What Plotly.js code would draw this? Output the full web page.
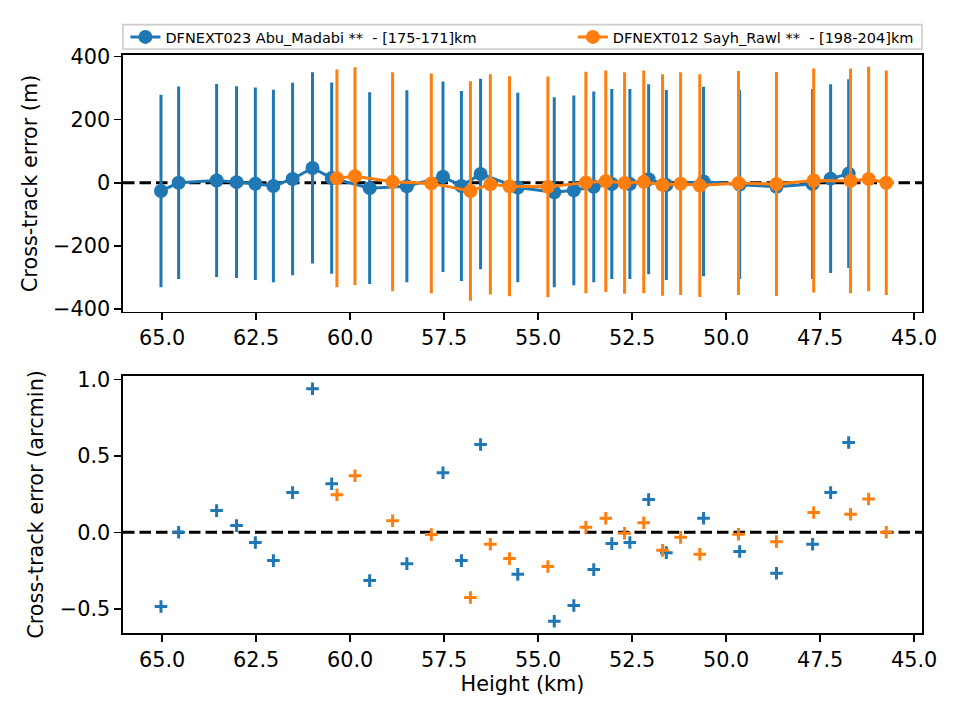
<!DOCTYPE html>
<html>
<head>
<meta charset="utf-8">
<script src="https://cdn.plot.ly/plotly-3.0.1.min.js"></script>
<style>html,body{margin:0;padding:0;background:#fff;}#chart{width:960px;height:720px;}</style>
</head>
<body>
<div id="chart"></div>
<script>
// ---- Data ----
const blueName = "DFNEXT023 Abu_Madabi **  - [175-171]km";
const orangeName = "DFNEXT012 Sayh_Rawl **  - [198-204]km";

const blueHeight = [65.03, 64.56, 63.55, 63.02, 62.52, 62.04, 61.53, 61.00, 60.49, 59.48,
  58.49, 57.53, 57.04, 56.53, 55.54, 54.57, 54.05, 53.52, 53.04, 52.56,
  52.06, 51.59, 50.60, 49.64, 48.66, 47.70, 47.22, 46.74];
const blueErrM = [-26, 0, 7, 2, -3, -10, 12, 47, 15, -17, -11, 19, -10, 28, -15,
  -30, -24, -13, -4, -4, 11, -7, 4, -6, -13, -4, 13, 29];
const blueSigmaM = [305, 305, 306, 304, 305, 305, 305, 303, 303, 304, 304, 302, 301, 302, 300,
  301, 301, 302, 301, 301, 301, 301, 300, 299, 300, 301, 299, 299];
const blueErrArcmin = [-0.486, 0.0, 0.142, 0.044, -0.067, -0.185, 0.26, 0.94, 0.318, -0.316,
  -0.205, 0.39, -0.185, 0.575, -0.275, -0.582, -0.479, -0.244, -0.074, -0.067,
  0.214, -0.133, 0.092, -0.126, -0.268, -0.078, 0.26, 0.588];

const orangeHeight = [60.35, 59.87, 58.87, 57.84, 56.80, 56.27, 55.76, 54.74, 53.73, 53.20,
  52.70, 52.19, 51.69, 51.21, 50.70, 49.67, 48.66, 47.67, 46.69, 46.21, 45.74];
const orangeErrM = [14, 21, 3, -2, -26, -5, -11, -13, 1, 5, -1, 3, -7, -3, -9, -1, -4, 7, 6, 12, 0];
const orangeSigmaM = [345, 345, 347, 348, 348, 349, 349, 350, 351, 351, 351, 353, 351, 353, 353,
  355, 355, 355, 356, 356, 356];
const orangeErrArcmin = [0.246, 0.37, 0.076, -0.015, -0.427, -0.078, -0.172, -0.224, 0.033, 0.092,
  -0.006, 0.063, -0.118, -0.033, -0.144, -0.013, -0.061, 0.13, 0.118, 0.218, 0.0];

const xTickVals = [65, 62.5, 60, 57.5, 55, 52.5, 50, 47.5, 45];
const xTickText = ["65.0", "62.5", "60.0", "57.5", "55.0", "52.5", "50.0", "47.5", "45.0"];
const y1TickVals = [-400, -200, 0, 200, 400];
const y1TickText = ["\u2212400", "\u2212200", "0", "200", "400"];
const y2TickVals = [-0.5, 0, 0.5, 1.0];
const y2TickText = ["\u22120.5", "0.0", "0.5", "1.0"];

// ---- Styling ----
const BLUE = "#1f77b4", ORANGE = "#ff7f0e";
const FONT = "DejaVu Sans";
const TICKFS = 20.8;

const traces = [
  {
    x: blueHeight, y: blueErrM, name: blueName, type: "scatter", mode: "lines+markers",
    xaxis: "x", yaxis: "y", legend: "legend",
    line: {color: BLUE, width: 3},
    marker: {color: BLUE, size: 14, symbol: "circle"},
    error_y: {type: "data", array: blueSigmaM, visible: true, color: BLUE, thickness: 3, width: 0}
  },
  {
    x: orangeHeight, y: orangeErrM, name: orangeName, type: "scatter", mode: "lines+markers",
    xaxis: "x", yaxis: "y", legend: "legend2",
    line: {color: ORANGE, width: 3},
    marker: {color: ORANGE, size: 14, symbol: "circle"},
    error_y: {type: "data", array: orangeSigmaM, visible: true, color: ORANGE, thickness: 3, width: 0}
  },
  {
    x: blueHeight, y: blueErrArcmin, type: "scatter", mode: "markers", showlegend: false,
    xaxis: "x2", yaxis: "y2",
    marker: {symbol: "cross-thin", size: 9, line: {color: BLUE, width: 3}}
  },
  {
    x: orangeHeight, y: orangeErrArcmin, type: "scatter", mode: "markers", showlegend: false,
    xaxis: "x2", yaxis: "y2",
    marker: {symbol: "cross-thin", size: 9, line: {color: ORANGE, width: 3}}
  }
];

function xAxis(extra) {
  return Object.assign({
    range: [66.04, 44.79], tickvals: xTickVals, ticktext: xTickText,
    ticks: "outside", ticklen: 7, tickwidth: 1.6, tickcolor: "#000",
    showline: true, linecolor: "#000", linewidth: 1.6, mirror: true,
    showgrid: false, zeroline: false,
    tickfont: {family: FONT, size: TICKFS, color: "#000"}
  }, extra);
}
function yAxis(extra) {
  return Object.assign({
    ticks: "outside", ticklen: 7, tickwidth: 1.6, tickcolor: "#000",
    showline: true, linecolor: "#000", linewidth: 1.6, mirror: true,
    showgrid: false, zeroline: false,
    tickfont: {family: FONT, size: TICKFS, color: "#000"}
  }, extra);
}

const legendBase = {
  orientation: "h", xanchor: "left", y: 1.0312, yanchor: "middle",
  font: {family: FONT, size: 14.5, color: "#000"},
  bgcolor: "rgba(0,0,0,0)", borderwidth: 0
};

const layout = {
  width: 960, height: 720,
  margin: {l: 123, r: 38, t: 55, b: 87},
  paper_bgcolor: "#fff", plot_bgcolor: "#fff",
  font: {family: FONT, size: TICKFS, color: "#000"},
  showlegend: true,
  legend: Object.assign({}, legendBase, {x: 0.003}),
  legend2: Object.assign({}, legendBase, {x: 0.563}),
  xaxis: xAxis({domain: [0, 1], anchor: "y"}),
  yaxis: yAxis({domain: [0.5557, 1], anchor: "x", range: [-409, 405],
    tickvals: y1TickVals, ticktext: y1TickText,
    title: {text: "Cross-track error (m)", font: {family: FONT, size: TICKFS, color: "#000"}, standoff: 10}}),
  xaxis2: xAxis({domain: [0, 1], anchor: "y2",
    title: {text: "Height (km)", font: {family: FONT, size: TICKFS, color: "#000"}, standoff: 6}}),
  yaxis2: yAxis({domain: [0, 0.4449], anchor: "x2", range: [-0.659, 1.024],
    tickvals: y2TickVals, ticktext: y2TickText,
    title: {text: "Cross-track error (arcmin)", font: {family: FONT, size: TICKFS, color: "#000"}, standoff: 10}}),
  shapes: [
    // legend frame
    {type: "rect", xref: "paper", yref: "paper", x0: 0.0, x1: 1.0, y0: 1.0104, y1: 1.0525,
     line: {color: "#cccccc", width: 1.6}, fillcolor: "#ffffff", layer: "below"},
    // zero reference lines
    {type: "line", xref: "x domain", yref: "y", x0: 0, x1: 1, y0: 0, y1: 0, layer: "below",
     line: {color: "#000", width: 3, dash: "11.5px,5px"}},
    {type: "line", xref: "x2 domain", yref: "y2", x0: 0, x1: 1, y0: 0, y1: 0, layer: "below",
     line: {color: "#000", width: 3, dash: "11.5px,5px"}}
  ]
};

Plotly.newPlot("chart", traces, layout, {displayModeBar: false, staticPlot: true});
</script>
</body>
</html>
